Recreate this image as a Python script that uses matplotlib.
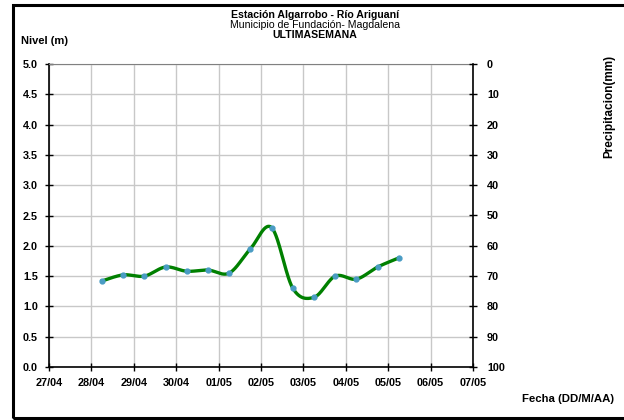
import numpy as np
import pandas as pd
import matplotlib
matplotlib.use("Agg")
from matplotlib import pyplot as plt
import matplotlib.dates as mdates
from matplotlib.patches import Rectangle

plt.rcParams['font.family'] = ['Liberation Sans', 'DejaVu Sans']

# lecturas de nivel (m), cada 12 horas
fechas = ["2013-04-28 06:00", "2013-04-28 18:00", "2013-04-29 06:00", "2013-04-29 18:00",
          "2013-04-30 06:00", "2013-04-30 18:00", "2013-05-01 06:00", "2013-05-01 18:00",
          "2013-05-02 06:00", "2013-05-02 18:00", "2013-05-03 06:00", "2013-05-03 18:00",
          "2013-05-04 06:00", "2013-05-04 18:00", "2013-05-05 06:00"]
nivel = [1.42, 1.52, 1.50, 1.65, 1.58, 1.60, 1.55, 1.95, 2.30, 1.30, 1.15, 1.50, 1.45, 1.65, 1.80]

x_inicio = "2013-04-27"
x_fin = "2013-05-07"
nivel_ticks = np.arange(0, 5.01, 0.5)
precip_ticks = np.arange(0, 101, 10)


def suavizar(x, y, n=30):
    '''Curva tipo Excel: segmentos Bezier con puntos de control Catmull-Rom'''
    p = np.column_stack([x, y])
    ext = np.vstack([p[0], p, p[-1]])
    out = [p[:1]]
    t = np.linspace(0, 1, n)[1:, None]
    for i in range(len(p) - 1):
        p0, p1 = ext[i + 1], ext[i + 2]
        c1 = p0 + (ext[i + 2] - ext[i]) / 6
        c2 = p1 - (ext[i + 3] - ext[i + 1]) / 6
        seg = (1 - t) ** 3 * p0 + 3 * (1 - t) ** 2 * t * c1 + 3 * (1 - t) * t ** 2 * c2 + t ** 3 * p1
        out.append(seg)
    out = np.vstack(out)
    return out[:, 0], out[:, 1]


xs = mdates.date2num(pd.to_datetime(fechas))
sx, sy = suavizar(xs, np.array(nivel))

fig = plt.figure(figsize=(6.24, 4.2), dpi=100)
ax = fig.add_axes([49 / 624, 1 - 367 / 420, 424 / 624, 303 / 420])

ax.plot(sx, sy, color='#008000', lw=2.4, zorder=3)
ax.plot(xs, nivel, 'o', color='#4a9cc4', ms=3.5, mec='#4a9cc4', zorder=4)

ax.set_xlim(mdates.date2num(pd.Timestamp(x_inicio)), mdates.date2num(pd.Timestamp(x_fin)))
ax.set_ylim(0, 5)
ax.xaxis.set_major_locator(mdates.DayLocator())
ax.xaxis.set_major_formatter(mdates.DateFormatter('%d/%m'))
ax.set_yticks(nivel_ticks)
ax.set_yticklabels([f"{v:.1f}" for v in nivel_ticks])
ax.grid(True, color='#c8c8c8', lw=1)
ax.set_axisbelow(True)

for s in ['left', 'bottom']:
    ax.spines[s].set_color('black')
    ax.spines[s].set_linewidth(1.2)
ax.spines['top'].set_color('#808080')
ax.spines['top'].set_linewidth(0.8)
ax.spines['right'].set_visible(False)

ax.tick_params(axis='both', direction='inout', length=6, width=1, labelsize=7.8)
ax.tick_params(axis='x', pad=5)
ax.tick_params(axis='y', pad=5)
for lab in ax.get_xticklabels() + ax.get_yticklabels():
    lab.set_fontweight('bold')

ax2 = ax.twinx()
ax2.set_ylim(100, 0)
ax2.set_yticks(precip_ticks)
ax2.spines['right'].set_color('black')
ax2.spines['right'].set_linewidth(1.2)
for s in ['left', 'top', 'bottom']:
    ax2.spines[s].set_visible(False)
ax2.tick_params(axis='y', direction='inout', length=6, width=1, labelsize=7.8, pad=7)
for lab in ax2.get_yticklabels():
    lab.set_fontweight('bold')

fig.text(0.505, 1 - 15 / 420, "Estación Algarrobo - Río Ariguaní", ha='center', va='center',
         fontsize=7.6, fontweight='bold')
fig.text(0.505, 1 - 25 / 420, "Municipio de Fundación- Magdalena", ha='center', va='center',
         fontsize=7.6)
fig.text(0.505, 1 - 34.5 / 420, "ULTIMASEMANA", ha='center', va='center',
         fontsize=7.6, fontweight='bold')
fig.text(21 / 624, 1 - 41 / 420, "Nivel (m)", ha='left', va='center',
         fontsize=8, fontweight='bold')
fig.text(609 / 624, 1 - 106.5 / 420, "Precipitacion(mm)", ha='center', va='center',
         rotation=90, fontsize=8.5, fontweight='bold')
fig.text(614 / 624, 1 - 399 / 420, "Fecha (DD/M/AA)", ha='right', va='center',
         fontsize=8.2, fontweight='bold')

fig.patches.append(Rectangle((12.5 / 624, 1 - 418 / 420), 1.1, 413 / 420,
                             transform=fig.transFigure, fill=False, ec='black', lw=2.2))

fig.savefig("out.png", dpi=100)
